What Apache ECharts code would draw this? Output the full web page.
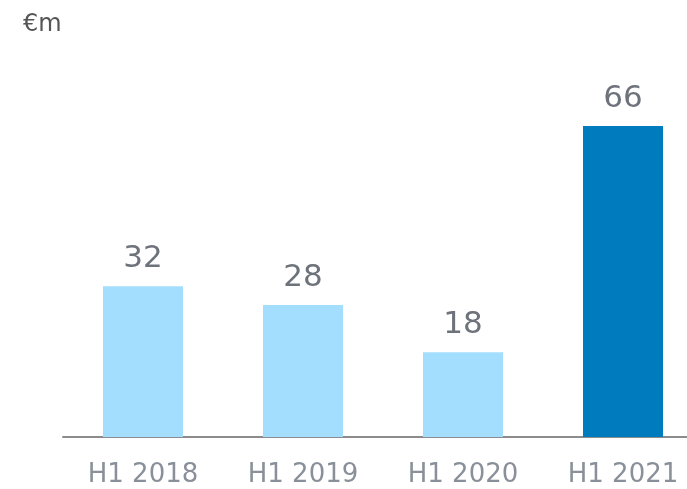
<!DOCTYPE html>
<html>
<head>
<meta charset="utf-8">
<script src="https://cdn.jsdelivr.net/npm/echarts@6/dist/echarts.min.js"></script>
<style>
  html, body { margin: 0; padding: 0; background: #fff; overflow: hidden; }
  #chart { width: 703px; height: 489px; }
</style>
</head>
<body>
<div id="chart"></div>
<script>
// 기간, 값
const periods = ['H1 2018', 'H1 2019', 'H1 2020', 'H1 2021'];
const values = [32, 28, 18, 66];
const barColors = ['#a3defe', '#a3defe', '#a3defe', '#007bbd'];

// 마지막 막대 영역이 오른쪽 끝을 살짝 넘어가서 컨테이너를 창보다 넓게 잡음
const chart = echarts.init(document.getElementById('chart'));

const option = {
  animation: false,
  title: {
    text: '€m',
    left: 18,
    top: 8,
    textStyle: {
      fontFamily: 'DejaVu Sans',
      fontSize: 24,
      fontWeight: 'normal',
      color: '#555555'
    }
  },
  grid: {
    left: 63,
    right: 0,
    top: 60,
    bottom: 52
  },
  xAxis: {
    type: 'category',
    data: periods,
    axisTick: { show: false },
    axisLine: {
      lineStyle: { color: '#8c8c8c', width: 2 }
    },
    axisLabel: {
      margin: 25,
      fontFamily: 'DejaVu Sans',
      fontSize: 26,
      color: '#8a9099'
    }
  },
  yAxis: {
    type: 'value',
    min: 0,
    max: 80,
    show: false,
    splitLine: { show: false }
  },
  series: [
    {
      type: 'bar',
      barWidth: 80,
      data: values.map((v, i) => ({
        value: v,
        itemStyle: { color: barColors[i] }
      })),
      label: {
        show: true,
        position: 'top',
        distance: 12,
        fontFamily: 'DejaVu Sans',
        fontSize: 31,
        color: '#6e737b'
      }
    }
  ]
};

chart.setOption(option);
</script>
</body>
</html>
